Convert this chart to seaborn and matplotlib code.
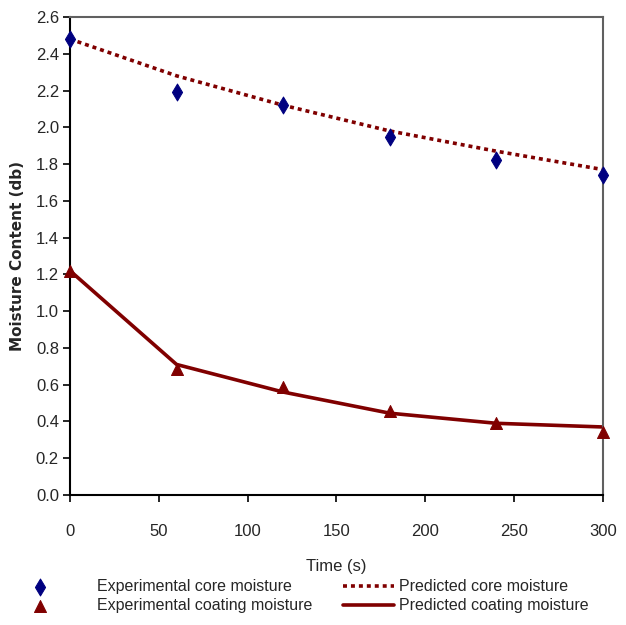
import matplotlib
matplotlib.use("Agg")
import matplotlib.pyplot as plt
import seaborn as sns
import pandas as pd

time_s = [0, 60, 120, 180, 240, 300]
exp_core = [2.48, 2.19, 2.12, 1.95, 1.82, 1.74]
pred_core = [2.48, 2.28, 2.12, 1.98, 1.87, 1.77]
exp_coating = [1.22, 0.685, 0.59, 0.455, 0.39, 0.34]
pred_coating = [1.22, 0.71, 0.56, 0.445, 0.39, 0.37]
y_ticks = [0.0, 0.2, 0.4, 0.6, 0.8, 1.0, 1.2, 1.4, 1.6, 1.8, 2.0, 2.2, 2.4, 2.6]
x_ticks = [0, 50, 100, 150, 200, 250, 300]

sns.set_theme(style="white")
plt.rcParams["font.family"] = ["Liberation Sans", "DejaVu Sans"]

NAVY = "#000080"
MAROON = "#800000"

fig = plt.figure(figsize=(6.26, 6.25), dpi=100)
ax = fig.add_axes([0.1118, 0.208, 0.8514, 0.7648])

df = pd.DataFrame({"t": time_s, "ec": exp_core, "pc": pred_core,
                   "eco": exp_coating, "pco": pred_coating})

sns.lineplot(data=df, x="t", y="pc", ax=ax, color=MAROON, lw=2.6,
             linestyle=(0, (1.1, 1.1)), label="Predicted core moisture")
sns.lineplot(data=df, x="t", y="pco", ax=ax, color=MAROON, lw=2.6,
             label="Predicted coating moisture")
sns.scatterplot(data=df, x="t", y="ec", ax=ax, marker="d", color=NAVY,
                s=75, edgecolor=NAVY, label="Experimental core moisture", zorder=5)
sns.scatterplot(data=df, x="t", y="eco", ax=ax, marker="^", color=MAROON,
                s=75, edgecolor=MAROON, label="Experimental coating moisture", zorder=5)
for c in ax.collections:
    c.set_clip_on(False)

ax.set_xlim(0, 300)
ax.set_ylim(0, 2.6)
ax.set_xticks(x_ticks)
ax.set_yticks(y_ticks)
ax.set_yticklabels([f"{v:.1f}" for v in y_ticks], fontsize=12)
ax.set_xticklabels([str(v) for v in x_ticks], fontsize=12)
ax.tick_params(axis="y", direction="out", length=5, width=1.2, color="black", pad=3)
ax.tick_params(axis="x", direction="out", length=5, width=1.2, color="black", pad=16)
ax.tick_params(left=True, bottom=True)

for s in ["left", "bottom"]:
    ax.spines[s].set_color("black")
    ax.spines[s].set_linewidth(1.5)
for s in ["top", "right"]:
    ax.spines[s].set_color("#606060")
    ax.spines[s].set_linewidth(1.5)

ax.set_xlabel("Time (s)", fontsize=12, labelpad=14)
ax.set_ylabel("Moisture Content (db)", fontsize=11, fontweight="bold",
              family=["DejaVu Sans"], labelpad=8)

handles, labels = ax.get_legend_handles_labels()
ax.get_legend().remove()
hmap = dict(zip(labels, handles))
left = ["Experimental core moisture", "Experimental coating moisture"]
right = ["Predicted core moisture", "Predicted coating moisture"]
common = dict(loc="lower left", frameon=False, fontsize=11.5,
              labelspacing=0.25, borderpad=0.1, borderaxespad=0)
fig.legend([hmap[o] for o in left], left, bbox_to_anchor=(0.048, 0.016),
           handlelength=1.0, handletextpad=3.1, **common)
fig.legend([hmap[o] for o in right], right, bbox_to_anchor=(0.545, 0.016),
           handlelength=3.2, handletextpad=0.3, **common)

fig.savefig("out.png", dpi=100)
